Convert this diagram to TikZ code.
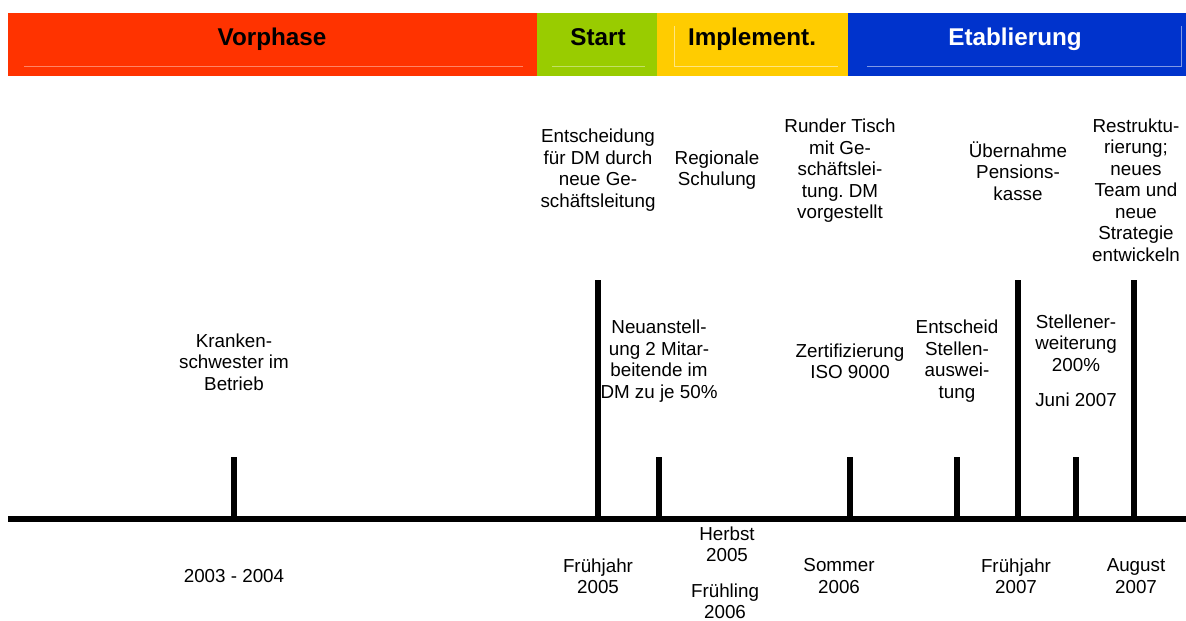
\documentclass[tikz,border=0pt]{standalone}
\usepackage{fontspec}
\setmainfont{Liberation Sans}
\usepackage{xcolor}
\usepackage{tikz}
\frenchspacing

\definecolor{vorrot}{HTML}{FF3300}
\definecolor{startgruen}{HTML}{99CC00}
\definecolor{implgelb}{HTML}{FFCC00}
\definecolor{etabblau}{HTML}{0033CC}

\begin{document}
\begin{tikzpicture}[x=0.02cm, y=-0.02cm,
    every node/.style={align=center, inner sep=0pt, font=\fontsize{10.7}{12.2}\selectfont},
    phase/.style={anchor=base, font=\fontsize{13.8}{15}\selectfont\bfseries},
    tick/.style={line width=3pt},
    faint/.style={line width=0.5pt}]
\useasboundingbox (0,0) rectangle (1186,621);
% Phasenleiste
\fill[vorrot] (8,13) rectangle (537,76);
\fill[startgruen] (537,13) rectangle (657,76);
\fill[implgelb] (657,13) rectangle (848,76);
\fill[etabblau] (848,13) rectangle (1186,76);
\draw[faint, vorrot!60!white] (24,66) -- (523,66);
\draw[faint, startgruen!60!white] (552,66) -- (645,66);
\draw[faint, implgelb!50!white] (674,26) -- (674,66) -- (838,66);
\draw[faint, etabblau!50!white] (867,66) -- (1181,66) -- (1181,26);
\node[phase] (vor) at (272,46) {Vorphase};
\node[phase] (start) at (598,46) {Start};
\node[phase] (impl) at (752,46) {Implement.};
\node[phase, text=white] (etab) at (1015,46) {Etablierung};
% Zeitachse
\coordinate (ax0) at (8,519);
\coordinate (ax1) at (1186,519);
\draw[line width=3.3pt] (ax0) -- (ax1);
\foreach \x/\top in {234/457, 598/280, 659/457, 850/457, 957/457, 1018/280, 1076/457, 1134/280}
  \draw[tick] (\x,519) -- (\x,\top);
% Ereignisse
\node (kranken) at (234,362) {Kranken-\\schwester im\\Betrieb};
\node (entsch) at (598,170) {Entscheidung\\für DM durch\\neue Ge-\\schäftsleitung};
\node (regio) at (717,170) {Regionale\\Schulung};
\node (tisch) at (840,171) {Runder Tisch\\mit Ge-\\schäftslei-\\tung. DM\\vorgestellt};
\node (pk) at (1018,171) {Übernahme\\Pensions-\\kasse};
\node (restr) at (1136,190) {Restruktu-\\rierung;\\neues\\Team und\\neue\\Strategie\\entwickeln};
\node (neuan) at (659,361) {Neuanstell-\\ung 2 Mitar-\\beitende im\\DM zu je 50\%};
\node (iso) at (850,361) {Zertifizierung\\ISO 9000};
\node (stellen) at (957,361) {Entscheid\\Stellen-\\auswei-\\tung};
\node (erw) at (1076,361) {Stellener-\\weiterung\\200\%\\[8pt]Juni 2007};
% Daten
\node (d1) at (234,576) {2003 - 2004};
\node (d2) at (598,576) {Frühjahr\\2005};
\node (d3) at (727,544) {Herbst\\2005};
\node (d4) at (725,601) {Frühling\\2006};
\node (d5) at (839,576) {Sommer\\2006};
\node (d6) at (1016,576) {Frühjahr\\2007};
\node (d7) at (1136,576) {August\\2007};
\end{tikzpicture}
\end{document}
